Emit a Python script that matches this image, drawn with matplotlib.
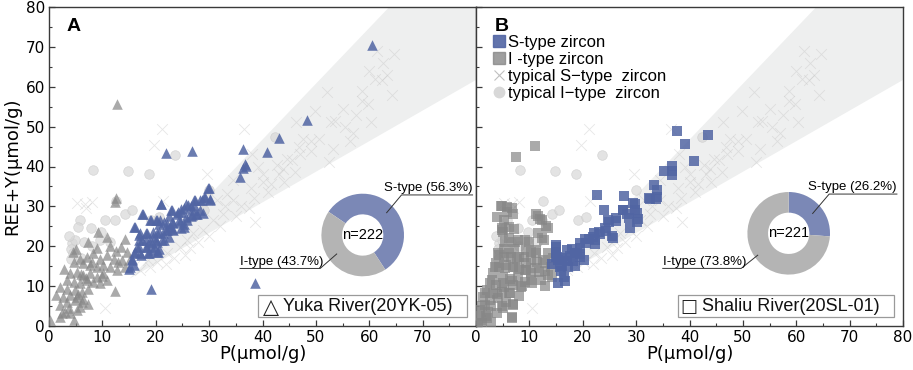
import numpy as np
import matplotlib
matplotlib.use("Agg")
import matplotlib.pyplot as plt
from matplotlib.lines import Line2D
from matplotlib.patches import Rectangle
from matplotlib.ticker import MultipleLocator

plt.rcParams["font.family"] = ["Liberation Sans", "DejaVu Sans"]

# 典型 S 型锆石 (灰色叉, 两图共用)  (P, REE+Y)
typS_p = [61.5, 64.6, 63.3, 61.1, 62.3, 64.3, 58.6, 52.0, 59.7, 58.6, 55.0, 60.4, 52.8, 53.5, 49.9,
          46.3, 47.6, 49.0, 46.8, 52.4, 45.5, 43.8, 43.0, 38.0, 36.6, 39.2, 46.0, 42.7, 40.1, 37.9,
          34.5, 33.3, 31.4, 34.5, 32.6, 30.8, 28.9, 27.0, 25.8, 24.6, 22.1, 20.2, 19.0, 17.1, 29.6,
          47.0, 53.2, 56.3, 36.0, 38.5, 41.0, 35.0, 37.5, 30.0, 32.0, 26.5, 28.0, 23.5, 22.0, 40.0,
          44.5, 50.5, 55.5, 57.5, 49.0, 33.0, 38.6, 25.5, 21.1, 19.6, 21.3, 5.3, 7.0, 8.1, 10.4,
          6.7, 18.5, 16.0, 60.0, 62.5, 57.0, 44.0, 41.5]
typS_r = [69.0, 68.2, 63.0, 61.9, 61.7, 58.0, 59.0, 58.6, 55.7, 56.5, 54.4, 51.1, 51.1, 51.5, 54.0,
          51.1, 46.9, 46.4, 44.8, 41.1, 41.7, 39.4, 38.2, 43.2, 49.4, 39.8, 38.5, 40.3, 36.0, 34.7,
          36.5, 33.2, 31.5, 31.5, 28.2, 26.5, 24.0, 23.2, 21.5, 19.8, 18.2, 16.1, 14.8, 14.0, 38.2,
          43.2, 44.5, 46.5, 30.0, 32.0, 33.5, 27.5, 29.5, 22.5, 25.0, 19.5, 21.0, 17.0, 15.5, 38.0,
          42.0, 47.0, 50.0, 53.0, 44.0, 30.0, 26.0, 17.8, 49.4, 45.3, 31.3, 30.9, 29.5, 31.0, 4.4,
          30.7, 16.5, 15.0, 64.0, 66.0, 48.5, 36.0, 35.5]

# 典型 I 型锆石 (灰色圆, 两图共用)
typI_p = [23.7, 8.3, 14.8, 18.8, 42.4, 12.6, 14.3, 15.6, 12.4, 5.8, 5.5, 7.8, 4.3, 4.1, 4.5,
          4.1, 4.9, 6.5, 9.6, 29.0, 19.1, 20.7, 30.0, 9.7, 10.5, 3.8, 6.0, 8.0, 11.5]
typI_r = [42.9, 39.0, 38.8, 38.1, 47.5, 31.3, 28.0, 29.2, 26.5, 26.5, 24.8, 24.7, 20.8, 19.3, 18.3,
          16.9, 21.5, 21.1, 21.5, 29.2, 26.5, 27.3, 34.2, 23.5, 26.5, 22.5, 17.0, 20.0, 21.0]

# A: Yuka River (20YK-05)
a_s_p = [60.6, 48.4, 43.1, 40.8, 36.4, 26.8, 22.0, 36.7, 36.9, 36.3, 35.8, 38.6, 19.2, 30.0, 30.1,
         29.2, 28.6, 27.3, 27.2, 26.7, 26.1, 25.3, 24.8, 23.9, 22.8, 21.0, 17.7, 20.2, 20.8, 19.2,
         16.1, 22.1, 22.7, 23.3, 24.6, 25.2, 25.8, 26.7, 27.7, 28.3, 28.9, 17.0, 18.3, 19.5, 20.2,
         21.4, 22.1, 23.3, 16.8, 18.1, 19.3, 20.2, 21.5, 16.5, 18.3, 19.6, 16.1, 17.1, 18.6, 20.5,
         15.5, 15.2, 29.8, 30.2, 29.1, 28.2, 27.2, 26.6, 25.6, 24.7, 24.1, 23.1, 22.5, 20.9, 17.5,
         19.0, 20.0, 20.6, 21.6, 23.1, 24.4, 25.7, 26.6, 27.5, 15.9, 16.9, 18.2, 19.4, 20.6, 21.9,
         23.1, 24.7, 25.3, 17.5, 18.7, 20.0, 21.2, 22.5, 16.9, 18.2, 19.4, 20.6, 15.9, 17.2, 18.7,
         20.3, 15.6, 15.9, 14.9]
a_s_r = [70.4, 51.7, 47.2, 43.6, 44.3, 43.9, 43.4, 40.7, 40.2, 39.7, 37.3, 10.8, 9.4, 34.6, 31.8,
         32.3, 31.5, 31.5, 30.3, 29.2, 30.3, 29.7, 28.6, 28.2, 29.2, 30.7, 28.0, 26.5, 26.5, 26.5,
         24.8, 25.7, 24.8, 25.8, 26.0, 24.8, 26.5, 27.8, 28.2, 29.0, 28.4, 23.2, 23.2, 22.3, 23.2,
         23.2, 24.0, 24.0, 21.5, 21.5, 20.7, 21.1, 21.5, 19.8, 19.8, 19.8, 18.6, 18.2, 18.2, 18.6,
         16.9, 14.8, 34.6, 31.7, 32.3, 31.7, 31.5, 30.2, 30.7, 29.4, 28.6, 29.0, 27.7, 30.7, 28.2,
         26.5, 26.5, 25.7, 26.1, 26.1, 26.5, 27.3, 27.7, 28.2, 24.8, 22.7, 23.2, 23.6, 23.6, 24.0,
         24.4, 24.7, 25.7, 21.5, 21.0, 21.5, 21.5, 22.3, 19.8, 19.8, 19.0, 19.4, 18.2, 17.8, 18.2,
         18.6, 16.5, 15.3, 14.4]
a_i_p = [12.8, 12.5, 12.3, 9.2, 10.8, 14.3, 7.3, 5.1, 4.5, 12.5, 13.5, 14.7, 15.2, 13.7, 12.1,
         10.8, 9.5, 8.3, 7.1, 5.8, 4.6, 6.4, 7.7, 8.9, 10.2, 11.4, 12.7, 14.3, 2.8, 3.9,
         5.2, 6.4, 7.7, 8.9, 10.2, 10.8, 9.5, 8.3, 7.1, 5.8, 4.6, 3.3, 2.1, 3.3, 4.9,
         6.1, 7.4, 12.4, 1.4, 2.6, 3.9, 5.2, 6.4, 7.4, 6.1, 4.9, 3.3, 2.1, 2.4, 3.7,
         4.6, 0.2, 2.1, 3.0, 5.2, 5.8, 3.9, 9.0, 11.5, 6.0, 8.0, 5.5, 7.0, 10.0, 13.0]
a_i_r = [55.7, 32.0, 31.0, 23.6, 22.3, 21.7, 21.1, 19.4, 18.6, 18.8, 19.8, 18.6, 16.9, 16.5, 16.9,
         17.8, 16.9, 18.2, 17.3, 16.9, 16.1, 15.7, 15.3, 14.8, 15.3, 14.8, 14.0, 14.8, 14.2, 13.2,
         13.6, 12.8, 13.2, 12.3, 13.2, 11.5, 10.7, 11.1, 11.5, 10.7, 11.1, 11.5, 9.8, 9.4, 9.0,
         8.6, 9.4, 8.8, 7.7, 7.3, 7.7, 7.3, 6.8, 5.6, 6.0, 6.4, 6.0, 5.2, 3.2, 4.5,
         1.5, 1.5, 2.3, 3.5, 3.9, 4.7, 3.2, 19.5, 20.0, 13.0, 16.0, 8.0, 12.0, 12.5, 16.0]

# B: Shaliu River (20SL-01)
b_s_p = [37.6, 43.5, 39.2, 40.9, 35.3, 36.8, 36.8, 36.8, 33.4, 34.0, 32.6, 33.8, 22.6, 27.8, 24.0,
         27.6, 28.2, 29.5, 30.2, 30.2, 28.8, 26.2, 25.0, 24.4, 23.2, 25.6, 22.0, 22.3, 20.7, 19.4,
         18.5, 17.6, 18.2, 19.4, 20.2, 17.0, 16.1, 15.0, 15.0, 15.0, 15.4, 14.3, 16.0, 16.6, 15.3,
         17.3, 18.5, 33.9, 32.5, 29.7, 29.8, 27.6, 26.2, 24.8, 28.6, 30.3, 24.2, 25.4, 23.1, 22.1,
         21.1, 22.3, 19.5, 20.5, 17.0, 18.0, 18.9, 19.4, 16.1, 15.2, 17.0, 14.9, 14.9, 15.8, 16.4]
b_s_r = [48.8, 47.8, 45.7, 41.5, 38.8, 40.1, 38.8, 37.8, 35.3, 34.0, 31.9, 31.9, 32.8, 32.7, 29.2,
         29.2, 28.2, 30.8, 28.3, 26.2, 24.5, 26.4, 26.0, 23.9, 23.1, 22.0, 22.2, 20.5, 20.7, 19.5,
         18.4, 17.6, 16.3, 18.0, 16.5, 16.3, 15.1, 19.8, 18.4, 17.2, 16.5, 15.5, 13.8, 11.3, 10.7,
         14.7, 15.1, 32.3, 32.1, 30.7, 29.0, 29.2, 27.0, 26.5, 27.0, 26.8, 24.6, 22.5, 23.6, 23.2,
         21.7, 21.5, 20.7, 21.9, 19.0, 19.4, 18.2, 17.4, 17.0, 17.4, 16.5, 20.3, 18.6, 14.9, 12.4]
b_i_p = [11.0, 7.5, 4.8, 5.8, 5.8, 4.0, 11.3, 11.9, 13.1, 5.3, 6.1, 4.8, 5.1, 6.2, 7.9,
         9.2, 12.3, 11.3, 4.1, 5.3, 6.5, 7.7, 9.0, 10.3, 11.5, 13.0, 14.0, 3.8, 4.4, 5.6,
         6.9, 8.1, 9.4, 10.3, 11.8, 13.4, 10.3, 12.2, 3.2, 5.0, 6.3, 7.9, 9.1, 2.6, 3.8,
         5.3, 6.9, 8.4, 2.0, 3.2, 4.8, 6.3, 1.4, 2.6, 4.1, 5.6, 6.9, 4.8, 1.7, 0.75,
         2.3, 3.9, 6.7, 2.8, 0.9, 0.3, 1.8, 5.3, 7.2, 9.4, 11.2, 13.5, 11.7, 9.4,
         4.7, 6.7, 6.9, 11.7, 12.4, 13.5, 4.9, 7.1, 5.5, 7.4, 9.9, 12.7, 4.3, 6.2,
         8.1, 10.3, 12.5, 14.4, 3.6, 5.4, 7.3, 9.2, 11.1, 12.9, 14.2, 3.0, 4.9, 6.7,
         8.6, 10.5, 13.0, 1.7, 3.9, 6.1, 8.0, 1.1, 2.9, 5.1, 7.0, 0.5, 2.1, 6.7, 1.1]
b_i_r = [45.1, 42.5, 30.2, 29.9, 28.7, 27.4, 28.2, 26.8, 25.1, 26.6, 24.9, 24.5, 23.5, 22.0, 21.6,
         21.6, 22.0, 19.0, 18.2, 17.3, 17.3, 16.9, 17.3, 16.5, 16.1, 15.7, 14.8, 15.7, 14.8, 15.3,
         14.8, 14.4, 14.0, 13.2, 13.6, 12.8, 11.5, 11.5, 13.2, 12.3, 11.9, 12.3, 11.1, 10.7, 10.3,
         9.8, 10.3, 9.8, 9.0, 8.2, 8.6, 8.2, 7.3, 6.5, 6.9, 6.1, 5.2, 4.9, 5.2, 4.0,
         3.6, 3.2, 2.0, 1.1, 1.5, 0.8, 2.5, 19.4, 19.4, 19.0, 18.2, 18.2, 23.3, 15.7,
         30.0, 29.7, 28.0, 27.7, 26.5, 24.6, 24.0, 24.4, 21.1, 21.1, 21.1, 21.5, 17.8, 18.2,
         17.4, 18.6, 16.6, 17.0, 14.9, 14.5, 14.9, 14.1, 14.5, 13.7, 12.4, 11.6, 10.8, 11.2,
         10.0, 10.8, 10.0, 8.3, 7.9, 8.3, 7.5, 5.0, 5.0, 4.6, 5.4, 2.4, 2.1, 2.3, 0.8]

# S 型锆石区域 (灰色楔形带)
band_p = [15.0, 80.0]
band_upper = [12.0, 103.0]
band_lower = [12.0, 61.9]

# 饼图
pie_labels = ["S-type", "I-type"]
pie_a = [56.3, 43.7]
pie_b = [26.2, 73.8]
n_a, n_b = 222, 221

C_S = "#5165a3"
C_I = "#878787"
C_PIE_S = "#7b88b6"
C_PIE_I = "#b4b4b4"
SP = "#3a3a3a"

W, H = 913, 370
fig = plt.figure(figsize=(W / 100, H / 100), dpi=100)
L, R, T, B = 49, 476, 7, 326
axA = fig.add_axes([L / W, (H - B) / H, (R - L) / W, (B - T) / H])
axB = fig.add_axes([R / W, (H - B) / H, (903 - R) / W, (B - T) / H])

for ax, sp, sr, ip, ir, mk in [(axA, a_s_p, a_s_r, a_i_p, a_i_r, "^"),
                                (axB, b_s_p, b_s_r, b_i_p, b_i_r, "s")]:
    ax.fill_between(band_p, band_lower, band_upper, color="#eeefef", lw=0, zorder=0)
    ax.scatter(typS_p, typS_r, marker="x", s=60, color="#c4c4c4", linewidths=0.6, alpha=0.42, zorder=1)
    ax.scatter(typI_p, typI_r, marker="o", s=48, color="#d8d8d8", edgecolors="#cacaca",
               linewidths=0.5, alpha=0.7, zorder=2)
    ms = 58 if mk == "^" else 46
    ax.scatter(ip, ir, marker=mk, s=ms, color=C_I, alpha=0.7, lw=0, zorder=3)
    ax.scatter(sp, sr, marker=mk, s=ms, color=C_S, alpha=0.85, lw=0, zorder=4)
    ax.set_xlim(0, 80); ax.set_ylim(0, 80)
    ax.yaxis.set_major_locator(MultipleLocator(10)); ax.yaxis.set_minor_locator(MultipleLocator(5))
    ax.xaxis.set_minor_locator(MultipleLocator(5))
    ax.tick_params(which="both", direction="in", top=False, right=False, color=SP,
                   labelsize=11, labelfontfamily="DejaVu Sans", pad=3)
    ax.tick_params(which="major", length=4.5, width=0.9)
    ax.tick_params(which="minor", length=2.5, width=0.8)
    for s in ax.spines.values():
        s.set_color(SP); s.set_linewidth(1.0)
    ax.set_xlabel("P(μmol/g)", fontsize=13, family="DejaVu Sans", labelpad=0)

axA.set_xticks(range(0, 80, 10))
axB.set_xticks(range(0, 90, 10))
axB.tick_params(labelleft=False)
axA.set_ylabel("REE+Y(μmol/g)", fontsize=13, family="DejaVu Sans", labelpad=3)

axA.text(0.04, 0.94, "A", transform=axA.transAxes, fontsize=14, fontweight="bold", va="center")
axB.text(0.045, 0.94, "B", transform=axB.transAxes, fontsize=14, fontweight="bold", va="center")

# 样品标注框
for ax, sym, name, x0, x1, xs, xt, fs in [
        (axA, "△", "Yuka River(20YK-05)", 0.490, 0.978, 0.519, 0.549, 15),
        (axB, "□", "Shaliu River(20SL-01)", 0.472, 0.980, 0.499, 0.529, 13)]:
    ax.add_patch(Rectangle((x0, 0.029), x1 - x0, 0.068, transform=ax.transAxes, fill=True,
                           facecolor="white", edgecolor="#9a9a9a", lw=0.9, zorder=5))
    ax.text(xs, 0.060, sym, transform=ax.transAxes, fontsize=fs, ha="center", va="center",
            family=["DejaVu Sans"], color="#222222", zorder=6)
    ax.text(xt, 0.062, name, transform=ax.transAxes, fontsize=13, ha="left", va="center",
            color="#111111", zorder=6)

# 图例
handles = [Line2D([], [], ls="", marker="s", ms=8, color=C_S, alpha=0.9),
           Line2D([], [], ls="", marker="s", ms=8, color=C_I, alpha=0.8),
           Line2D([], [], ls="", marker="x", ms=7.5, color="#c0c0c0", mew=0.8),
           Line2D([], [], ls="", marker="o", ms=7.5, color="#d8d8d8")]
labels = ["S-type zircon", "I -type zircon", "typical S\u2212type  zircon", "typical I\u2212type  zircon"]
axB.legend(handles, labels, loc="upper left", bbox_to_anchor=(0.038, 0.912), frameon=False,
           fontsize=12, handlelength=0.8, handletextpad=0.15, labelspacing=0.12,
           borderpad=0, borderaxespad=0)

# 环形饼图
RP = 41.3
for cx, cy, vals, start, n, s_lab, i_lab in [
        (362.7, 235.0, pie_a, 145.8, n_a,
         ((0.94, 0.97), (0.58, 0.54), 2.66, 1.13, 0.64),
         ((-1.03, -0.81), (-0.63, -0.46), -2.97, -0.66)),
        (788.7, 233.3, pie_b, 90.0, n_b,
         ((0.98, 0.95), (0.58, 0.48), 2.62, 1.12, 0.68),
         ((-1.15, -0.85), (-0.75, -0.53), -3.05, -0.70))]:
    pax = fig.add_axes([(cx - RP) / W, (H - cy - RP) / H, 2 * RP / W, 2 * RP / H])
    pax.patch.set_visible(False)
    pax.pie(vals, colors=[C_PIE_S, C_PIE_I], startangle=start, counterclock=False, radius=1,
            wedgeprops=dict(width=0.5, linewidth=0))
    pax.add_patch(plt.Circle((0, 0), 0.5, color="white", zorder=0))
    pax.set_xlim(-1, 1); pax.set_ylim(-1, 1)
    pax.text(0, 0, f"n={n}", ha="center", va="center", fontsize=10.5)
    pct_s, pct_i = vals
    (ux, uy), (lx, ly), uend, ty, tx = s_lab
    pax.plot([lx, ux, uend], [ly, uy, uy], color="#333333", lw=0.7, clip_on=False)
    pax.text(uend, ty, f"{pie_labels[0]} ({pct_s}%)", ha="right", va="center", fontsize=9.5,
             family=["Liberation Sans Narrow", "Liberation Sans"], clip_on=False)
    (ux, uy), (lx, ly), ustart, ty = i_lab
    pax.plot([lx, ux, ustart], [ly, uy, uy], color="#333333", lw=0.7, clip_on=False)
    pax.text(ustart, ty, f"{pie_labels[1]} ({pct_i}%)", ha="left", va="center", fontsize=9.5,
             family=["Liberation Sans Narrow", "Liberation Sans"], clip_on=False)

fig.savefig("out.png", dpi=100)
